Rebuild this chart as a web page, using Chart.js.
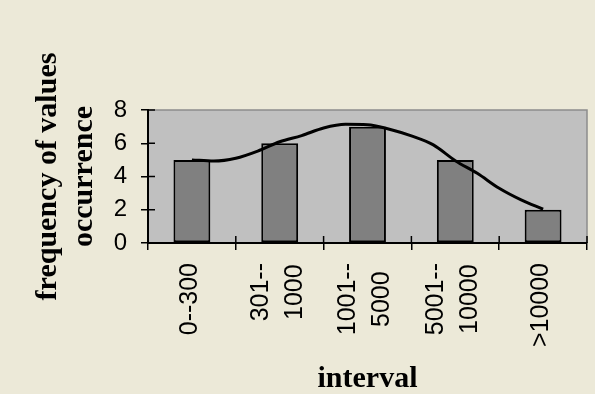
<!DOCTYPE html>
<html>
<head>
<meta charset="utf-8">
<script src="https://cdn.jsdelivr.net/npm/chart.js@4/dist/chart.umd.min.js"></script>
<style>
  html, body { margin: 0; padding: 0; background: #ECE9D8; }
  #wrap { width: 595px; height: 394px; }
</style>
</head>
<body>
<div id="wrap"><canvas id="chart" width="595" height="394"></canvas></div>
<script>
// Interval categories (multi-line tick labels)
const categories = [['0--300'], ['301--', '1000'], ['1001--', '5000'], ['5001--', '10000'], ['>10000']];
// Frequency of values falling in each interval
const frequencies = [5, 6, 7, 5, 2];
// Smoothed trend curve, position in category units and its height
const trendPos  = [0, 0.25, 0.5, 0.75, 1, 1.25, 1.5, 1.75, 2, 2.25, 2.5, 2.75, 3, 3.25, 3.5, 3.75, 4];
const trendFreq = [5.0, 4.93, 5.1, 5.53, 6.09, 6.46, 6.92, 7.14, 7.12, 6.84, 6.44, 5.9, 4.95, 4.19, 3.29, 2.59, 2.03];
// Y axis tick values
const yTicks = [0, 2, 4, 6, 8];

const trendPoints = trendPos.map((x, i) => ({ x: x, y: trendFreq[i] }));

// Grey plot area with a thin frame on the top and right
const plotBackground = {
  id: 'plotBackground',
  beforeDraw(chart) {
    const { ctx, chartArea: a } = chart;
    ctx.save();
    ctx.fillStyle = '#ECE9D8';
    ctx.fillRect(0, 0, chart.width, chart.height);
    ctx.fillStyle = '#C0C0C0';
    ctx.fillRect(a.left, a.top, a.right - a.left, a.bottom - a.top);
    ctx.strokeStyle = '#8C8C8C';
    ctx.lineWidth = 1.5;
    ctx.beginPath();
    ctx.moveTo(a.left, a.top);
    ctx.lineTo(a.right, a.top);
    ctx.lineTo(a.right, a.bottom);
    ctx.stroke();
    ctx.restore();
  }
};

// Tick marks that cross the axis lines, plus the rotated interval labels
const axisDecor = {
  id: 'axisDecor',
  afterDraw(chart) {
    const { ctx, chartArea: a } = chart;
    const xs = chart.scales.x, xt = chart.scales.xt, ys = chart.scales.y;
    ctx.save();
    ctx.strokeStyle = '#000';
    ctx.lineWidth = 1.5;
    ctx.beginPath();
    yTicks.forEach(v => {
      const py = ys.getPixelForValue(v);
      ctx.moveTo(a.left, py);
      ctx.lineTo(a.left + 7, py);
    });
    for (let k = 1; k <= categories.length; k++) {
      const px = xt.getPixelForValue(k - 0.5);
      ctx.moveTo(px, a.bottom);
      ctx.lineTo(px, a.bottom - 7);
    }
    ctx.stroke();

    ctx.fillStyle = '#000';
    ctx.font = '25px "Liberation Sans", Arial, sans-serif';
    ctx.textBaseline = 'middle';
    ctx.textAlign = 'right';
    const lineGap = 34;
    const topY = a.bottom + 20;
    categories.forEach((lines, i) => {
      const cx = xs.getPixelForValue(i) - 2;
      const widths = lines.map(t => ctx.measureText(t).width);
      const blockW = Math.max(...widths);
      ctx.save();
      ctx.translate(cx, topY);
      ctx.rotate(-Math.PI / 2);
      lines.forEach((t, j) => {
        const ly = (j - (lines.length - 1) / 2) * lineGap;
        ctx.fillText(t, -(blockW - widths[j]) / 2, ly);
      });
      ctx.restore();
    });
    ctx.restore();
  }
};

new Chart(document.getElementById('chart'), {
  type: 'bar',
  data: {
    labels: categories,
    datasets: [
      {
        type: 'line',
        data: trendPoints,
        xAxisID: 'xt',
        yAxisID: 'y',
        borderColor: '#000',
        borderWidth: 3,
        pointRadius: 0,
        fill: false,
        cubicInterpolationMode: 'monotone',
        order: 0
      },
      {
        type: 'bar',
        data: frequencies,
        xAxisID: 'x',
        yAxisID: 'y',
        backgroundColor: '#808080',
        borderColor: '#000',
        borderWidth: 2,
        borderSkipped: false,
        grouped: false,
        categoryPercentage: 1,
        barPercentage: 0.42,
        order: 1
      }
    ]
  },
  options: {
    responsive: false,
    animation: false,
    devicePixelRatio: 1,
    layout: { padding: { left: 0, top: 110, right: 8, bottom: 0 } },
    plugins: { legend: { display: false }, tooltip: { enabled: false } },
    scales: {
      x: {
        type: 'category',
        offset: true,
        grid: { display: true, drawOnChartArea: false, offset: true, tickLength: 7, color: '#000', lineWidth: 1.5 },
        border: { display: true, color: '#000', width: 2 },
        ticks: { display: false },
        title: {
          display: true,
          text: 'interval',
          color: '#000',
          font: { family: '"Liberation Serif", "Times New Roman", serif', size: 30, weight: 'bold', lineHeight: 1.0 },
          padding: { top: 114, bottom: 0 }
        }
      },
      xt: {
        type: 'linear',
        display: false,
        offset: false,
        min: -0.5,
        max: 4.5
      },
      y: {
        min: 0,
        max: 8,
        afterFit(scale) { scale.width = 148; },
        grid: { display: true, drawOnChartArea: false, tickLength: 7, color: '#000', lineWidth: 1.5 },
        border: { display: true, color: '#000', width: 2 },
        ticks: {
          stepSize: 2,
          padding: 14,
          color: '#000',
          font: { family: '"Liberation Sans", Arial, sans-serif', size: 24 }
        },
        title: {
          display: true,
          text: ['frequency of values', 'occurrence'],
          color: '#000',
          font: { family: '"Liberation Serif", "Times New Roman", serif', size: 30, weight: 'bold', lineHeight: 1.2 },
          padding: { top: 30, bottom: 8 }
        }
      }
    }
  },
  plugins: [plotBackground, axisDecor]
});
</script>
</body>
</html>
